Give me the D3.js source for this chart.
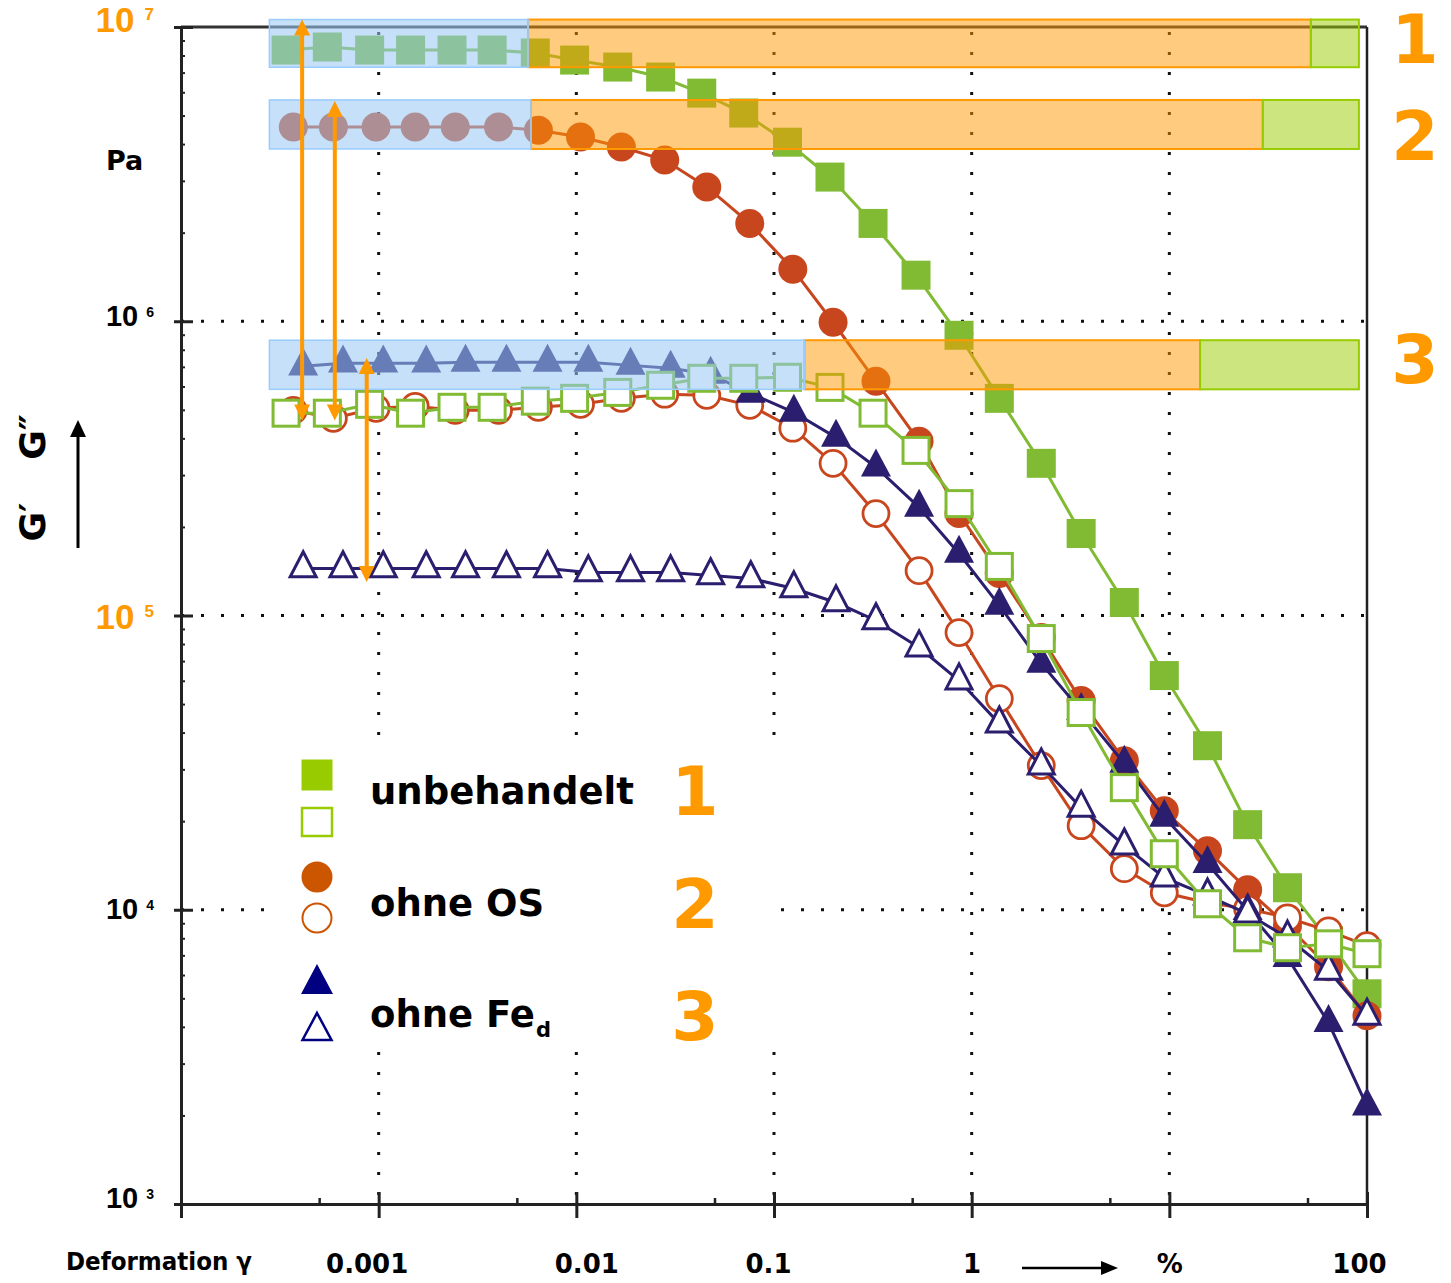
<!DOCTYPE html>
<html>
<head>
<meta charset="utf-8">
<script src="https://cdn.jsdelivr.net/npm/d3@7"></script>
<style>
  html, body { margin: 0; padding: 0; background: #ffffff; }
  svg { display: block; font-family: "DejaVu Sans", Verdana, sans-serif; font-weight: bold; }
</style>
</head>
<body>
<svg id="chart" width="1451" height="1283"></svg>
<script>
// ---- measured amplitude sweeps: strain in %, moduli in Pa ----
const strainUnbehandelt = [3.4e-4, 5.5e-4, 9.0e-4, 1.45e-3, 2.35e-3, 3.75e-3, 6.2e-3, 9.8e-3, 0.0162, 0.0267, 0.0431, 0.0703, 0.117, 0.192, 0.317, 0.523, 0.863, 1.38, 2.25, 3.58, 5.92, 9.43, 15.6, 24.9, 39.6, 63.9, 100];
const strainOhneOS      = [3.7e-4, 5.9e-4, 9.7e-4, 1.53e-3, 2.44e-3, 4.04e-3, 6.43e-3, 0.0105, 0.0169, 0.028, 0.0457, 0.0754, 0.1245, 0.199, 0.328, 0.542, 0.863, 1.38, 2.25, 3.58, 5.92, 9.43, 15.6, 24.9, 39.6, 63.9, 100];
const strainOhneFe      = [4.15e-4, 6.6e-4, 1.055e-3, 1.74e-3, 2.75e-3, 4.43e-3, 7.15e-3, 0.0115, 0.0188, 0.030, 0.0478, 0.0763, 0.126, 0.206, 0.328, 0.542, 0.863, 1.38, 2.25, 3.58, 5.92, 9.43, 15.6, 24.9, 39.6, 63.9, 100];

const storageUnbehandelt = [8.35e6, 8.55e6, 8.35e6, 8.35e6, 8.35e6, 8.35e6, 8.16e6, 7.72e6, 7.31e6, 6.76e6, 5.96e6, 5.10e6, 4.06e6, 3.09e6, 2.15e6, 1.434e6, 8.96e5, 5.47e5, 3.29e5, 1.90e5, 1.107e5, 6.25e4, 3.61e4, 1.946e4, 1.188e4, 7.85e3, 5.18e3];
const lossUnbehandelt    = [4.87e5, 4.87e5, 5.22e5, 4.87e5, 5.10e5, 5.10e5, 5.35e5, 5.47e5, 5.73e5, 6.06e5, 6.40e5, 6.40e5, 6.45e5, 5.96e5, 4.87e5, 3.64e5, 2.40e5, 1.468e5, 8.35e4, 4.68e4, 2.60e4, 1.55e4, 1.048e4, 8.03e3, 7.43e3, 7.66e3, 7.09e3];
const storageOhneOS      = [4.57e6, 4.57e6, 4.57e6, 4.57e6, 4.57e6, 4.57e6, 4.46e6, 4.23e6, 3.91e6, 3.53e6, 2.86e6, 2.15e6, 1.503e6, 9.92e5, 6.25e5, 3.91e5, 2.22e5, 1.39e5, 8.42e4, 5.14e4, 3.21e4, 2.17e4, 1.588e4, 1.17e4, 8.82e3, 6.40e3, 4.36e3];
const lossOhneOS         = [4.98e5, 4.68e5, 5.06e5, 5.14e5, 4.98e5, 4.98e5, 5.10e5, 5.22e5, 5.47e5, 5.65e5, 5.60e5, 5.18e5, 4.33e5, 3.29e5, 2.22e5, 1.42e5, 8.75e4, 5.22e4, 3.09e4, 1.93e4, 1.379e4, 1.142e4, 1.056e4, 1.008e4, 9.39e3, 8.48e3, 7.55e3];
const storageOhneFe      = [7.03e5, 7.20e5, 7.20e5, 7.20e5, 7.25e5, 7.25e5, 7.25e5, 7.25e5, 7.08e5, 6.92e5, 6.60e5, 5.69e5, 4.90e5, 4.03e5, 3.19e5, 2.33e5, 1.625e5, 1.082e5, 6.87e4, 4.75e4, 3.14e4, 2.06e4, 1.434e4, 9.92e3, 6.87e3, 4.13e3, 2.15e3];
const lossOhneFe         = [1.445e5, 1.445e5, 1.445e5, 1.445e5, 1.445e5, 1.445e5, 1.445e5, 1.40e5, 1.40e5, 1.40e5, 1.368e5, 1.336e5, 1.235e5, 1.107e5, 9.62e4, 7.78e4, 6.01e4, 4.29e4, 3.09e4, 2.22e4, 1.651e4, 1.285e4, 1.116e4, 9.69e3, 8.03e3, 6.20e3, 4.36e3];

// ---- ranges per sample: linear-viscoelastic range, yield to flow point, flow ----
const rangeModulusLow  = [7.3e6, 3.85e6, 5.87e5];
const rangeModulusHigh = [1.06e7, 5.65e6, 8.62e5];
const rangeStart       = [2.8e-4, 2.8e-4, 2.8e-4];
const lveLimit         = [5.7e-3, 5.9e-3, 0.1425];
const flowPoint        = [52, 29.7, 14.3];
const rangeEnd         = [91, 91, 91];

// ---- G' / G'' gaps marked in the LVE range ----
const gapStrain = [4.1e-4, 6.0e-4, 8.7e-4];
const gapTop    = [1.06e7, 5.6e6, 7.5e5];
const gapBottom = [4.6e5, 4.6e5, 1.3e5];

// ---- axis ticks ----
const xTickValues = [0.001, 0.01, 0.1, 1, 10, 100];
const xTickLabels = ["0.001", "0.01", "0.1", "1", "%", "100"];
const yTickValues = [1e3, 1e4, 1e5, 1e6, 1e7];
const yTickExponents = ["3", "4", "5", "6", "7"];
const sampleNames = ["unbehandelt", "ohne OS", "ohne Fe"];
const sampleNumbers = ["1", "2", "3"];

// ---- styles ----
const ORANGE = "#ff9900";
const plotColors = ["#80bb33", "#c8461e", "#2b1e6e"];
const legendColors = ["#99cc00", "#cc5500", "#000080"];

const svg = d3.select("#chart");
const x = d3.scaleLog().domain([1e-4, 100]).range([181, 1367]);
const y = d3.scaleLog().domain([1e3, 1e7]).range([1204, 27]);
const [x0, x1] = x.range();
const [y0, y1] = y.range();

// dotted grid
const grid = svg.append("g");
grid.selectAll("line.gv").data([0.001, 0.01, 0.1, 1, 10]).join("line")
  .attr("class", "gv")
  .attr("x1", d => x(d)).attr("x2", d => x(d))
  .attr("y1", y1).attr("y2", y0)
  .attr("stroke", "#111").attr("stroke-width", 3)
  .attr("stroke-dasharray", "3 17").attr("stroke-dashoffset", 15);
grid.selectAll("line.gh").data([1e4, 1e5, 1e6]).join("line")
  .attr("class", "gh")
  .attr("x1", x0).attr("x2", x1)
  .attr("y1", d => y(d)).attr("y2", d => y(d))
  .attr("stroke", "#111").attr("stroke-width", 3)
  .attr("stroke-dasharray", "3 17").attr("stroke-dashoffset", 0);

// frame (top and right)
svg.append("line").attr("x1", x0).attr("x2", x1).attr("y1", y1).attr("y2", y1)
  .attr("stroke", "#333").attr("stroke-width", 3);
svg.append("line").attr("x1", x1).attr("x2", x1).attr("y1", y1).attr("y2", y0)
  .attr("stroke", "#222").attr("stroke-width", 2.5);

// minor ticks
const minorY = [];
for (let e = 3; e < 7; e++) for (let k = 2; k <= 9; k++) minorY.push(k * Math.pow(10, e));
svg.append("g").attr("transform", `translate(${x0},0)`)
  .call(d3.axisRight(y).tickValues(minorY).tickSize(4).tickFormat(""))
  .call(g => g.select(".domain").remove())
  .call(g => g.selectAll("line").attr("stroke", "#222").attr("stroke-width", 2));
const minorX = [5e-4, 5e-3, 5e-2, 0.5, 5, 50];
svg.append("g").attr("transform", `translate(0,${y0})`)
  .call(d3.axisTop(x).tickValues(minorX).tickSize(6).tickFormat(""))
  .call(g => g.select(".domain").remove())
  .call(g => g.selectAll("line").attr("stroke", "#222").attr("stroke-width", 2.5));

// x axis
const xLabelNudge = [-12, 10, -6, 0, 0, -8];
const xAxis = svg.append("g").attr("transform", `translate(0,${y0})`)
  .call(d3.axisBottom(x).tickValues([1e-4].concat(xTickValues)).tickSizeOuter(0)
    .tickFormat(d => { const i = xTickValues.indexOf(d); return i < 0 ? "" : xTickLabels[i]; }));
xAxis.select(".domain").attr("stroke", "#222").attr("stroke-width", 3);
xAxis.selectAll(".tick line").attr("y1", -12).attr("y2", 14).attr("stroke", "#222").attr("stroke-width", 3);
xAxis.selectAll(".tick text")
  .attr("y", 69).attr("dy", 0)
  .attr("dx", d => { const i = xTickValues.indexOf(d); return i < 0 ? 0 : xLabelNudge[i]; })
  .attr("fill", "#000").attr("font-size", 26).attr("font-family", "DejaVu Sans, Verdana, sans-serif")
  .attr("font-weight", "bold");

// y axis
const yLabelDrop = [3, 9, 13, 4, 4];
const yAxis = svg.append("g").attr("transform", `translate(${x0},0)`)
  .call(d3.axisLeft(y).tickValues(yTickValues).tickSizeOuter(0).tickFormat(""));
yAxis.select(".domain").attr("stroke", "#222").attr("stroke-width", 3);
yAxis.selectAll(".tick line").attr("x1", 12).attr("x2", -7).attr("stroke", "#222").attr("stroke-width", 3);
yAxis.selectAll(".tick").each(function (d) {
  const i = yTickValues.indexOf(d);
  const hi = (d === 1e5 || d === 1e7);
  const t = d3.select(this).append("text")
    .attr("x", -27).attr("y", yLabelDrop[i])
    .attr("text-anchor", "end")
    .attr("fill", hi ? ORANGE : "#000");
  t.append("tspan").attr("font-size", hi ? 35 : 29).text("10");
  t.append("tspan").attr("font-size", hi ? 17 : 14).attr("dx", hi ? 10 : 8).attr("dy", hi ? -12 : -9)
    .text(yTickExponents[i]);
});

// unit and axis titles
svg.append("text").attr("x", 106).attr("y", 170).attr("font-size", 27).attr("fill", "#000").text("Pa");
svg.append("text").attr("transform", "translate(45,522) rotate(-90)")
  .attr("text-anchor", "middle").attr("font-size", 36).attr("fill", "#000").text("G\u2032");
svg.append("text").attr("transform", "translate(45,437) rotate(-90)")
  .attr("text-anchor", "middle").attr("font-size", 36).attr("fill", "#000").text("G\u2033");
svg.append("line").attr("x1", 78).attr("x2", 78).attr("y1", 548).attr("y2", 434)
  .attr("stroke", "#000").attr("stroke-width", 3);
svg.append("path").attr("d", "M70,437 L86,437 L78,420 Z").attr("fill", "#000");

svg.append("text").attr("x", 66).attr("y", 1270).attr("font-size", 24).attr("fill", "#000")
  .attr("textLength", 186).attr("lengthAdjust", "spacingAndGlyphs").text("Deformation \u03b3");
svg.append("line").attr("x1", 1022).attr("x2", 1104).attr("y1", 1268).attr("y2", 1268)
  .attr("stroke", "#000").attr("stroke-width", 2.5);
svg.append("path").attr("d", "M1101,1261 L1118,1268 L1101,1275 Z").attr("fill", "#000");

// marker shapes
function triPath(side, h) {
  return `M0,${-2 * h / 3} L${side / 2},${h / 3} L${-side / 2},${h / 3} Z`;
}
function drawMarker(g, shape, filled, color, sz) {
  // sz: outer size in px
  if (shape === "square") {
    const s = filled ? sz : sz - 3;
    g.append("rect").attr("x", -s / 2).attr("y", -s / 2).attr("width", s).attr("height", s)
      .attr("fill", filled ? color : "#fff").attr("stroke", filled ? "none" : color).attr("stroke-width", 3);
  } else if (shape === "circle") {
    const r = filled ? sz / 2 : sz / 2 - 1.5;
    g.append("circle").attr("r", r)
      .attr("fill", filled ? color : "#fff").attr("stroke", filled ? "none" : color).attr("stroke-width", 2.8);
  } else {
    const side = filled ? sz + 1 : sz - 3, h = filled ? sz - 1 : sz - 4;
    g.append("path").attr("d", triPath(side, h))
      .attr("fill", filled ? color : "#fff").attr("stroke", filled ? "none" : color)
      .attr("stroke-width", 3).attr("stroke-linejoin", "miter");
  }
}

// series, listed bottom to top
const series = [
  { xs: strainUnbehandelt, ys: storageUnbehandelt, shape: "square", filled: true,  color: plotColors[0] },
  { xs: strainOhneOS,      ys: storageOhneOS,      shape: "circle", filled: true,  color: plotColors[1] },
  { xs: strainOhneOS,      ys: lossOhneOS,         shape: "circle", filled: false, color: plotColors[1] },
  { xs: strainOhneFe,      ys: storageOhneFe,      shape: "tri",    filled: true,  color: plotColors[2] },
  { xs: strainOhneFe,      ys: lossOhneFe,         shape: "tri",    filled: false, color: plotColors[2] },
  { xs: strainUnbehandelt, ys: lossUnbehandelt,    shape: "square", filled: false, color: plotColors[0] }
];
const line = d3.line().x(d => x(d[0])).y(d => y(d[1]));
const plot = svg.append("g");
series.forEach(s => {
  const pts = s.xs.map((v, i) => [v, s.ys[i]]);
  const g = plot.append("g");
  g.append("path").datum(pts).attr("d", line)
    .attr("fill", "none").attr("stroke", s.color).attr("stroke-width", 3);
  g.selectAll("g.m").data(pts).join("g").attr("class", "m")
    .attr("transform", d => `translate(${x(d[0])},${y(d[1])})`)
    .each(function () { drawMarker(d3.select(this), s.shape, s.filled, s.color, 29); });
});

// range bands drawn over the curves
const bands = svg.append("g");
const idx = d3.range(rangeModulusLow.length);
idx.forEach(i => {
  const top = y(rangeModulusHigh[i]), h = y(rangeModulusLow[i]) - top;
  bands.append("rect").attr("x", x(lveLimit[i])).attr("y", top)
    .attr("width", x(flowPoint[i]) - x(lveLimit[i])).attr("height", h)
    .attr("fill", "rgba(255,153,0,0.5)").attr("stroke", ORANGE).attr("stroke-width", 2);
  bands.append("rect").attr("x", x(flowPoint[i])).attr("y", top)
    .attr("width", x(rangeEnd[i]) - x(flowPoint[i])).attr("height", h)
    .attr("fill", "rgba(153,204,0,0.5)").attr("stroke", "#99cc00").attr("stroke-width", 2);
  bands.append("rect").attr("x", x(rangeStart[i])).attr("y", top)
    .attr("width", x(lveLimit[i]) - x(rangeStart[i])).attr("height", h)
    .attr("fill", "rgba(152,200,243,0.56)").attr("stroke", "#99ccff").attr("stroke-width", 1.5);
});

// double arrows between G' and G''
const arrows = svg.append("g");
idx.forEach(i => {
  const ax = x(gapStrain[i]), t = y(gapTop[i]), b = y(gapBottom[i]);
  arrows.append("line").attr("x1", ax).attr("x2", ax).attr("y1", t + 12).attr("y2", b - 12)
    .attr("stroke", ORANGE).attr("stroke-width", 4);
  arrows.append("path").attr("d", `M${ax},${t} L${ax + 8},${t + 16} L${ax - 8},${t + 16} Z`).attr("fill", ORANGE);
  arrows.append("path").attr("d", `M${ax},${b} L${ax + 8},${b - 16} L${ax - 8},${b - 16} Z`).attr("fill", ORANGE);
});

// sample numbers beside the bands
const rightNumY = [63, 160, 383];
svg.append("g").selectAll("text").data(sampleNumbers).join("text")
  .attr("x", 1415).attr("y", (d, i) => rightNumY[i]).attr("text-anchor", "middle")
  .attr("font-size", 68).attr("fill", ORANGE).text(d => d);

// legend
const legend = svg.append("g");
legend.append("rect").attr("x", 266).attr("y", 750).attr("width", 514).attr("height", 296).attr("fill", "#fff");
const legendShapes = ["square", "circle", "tri"];
const legendFilledY = [775, 877, 984];
const legendOpenY = [822, 918, 1031];
const legendTextY = [804, 916, 1027];
const legendNumY = [815, 928, 1040];
idx.forEach(i => {
  const gf = legend.append("g").attr("transform", `translate(317,${legendFilledY[i]})`);
  drawMarker(gf, legendShapes[i], true, legendColors[i], 31);
  const go = legend.append("g").attr("transform", `translate(317,${legendOpenY[i]})`);
  const shape = legendShapes[i];
  if (shape === "square") {
    go.append("rect").attr("x", -15).attr("y", -14).attr("width", 30).attr("height", 28)
      .attr("fill", "#fff").attr("stroke", legendColors[i]).attr("stroke-width", 2.5);
  } else if (shape === "circle") {
    go.append("circle").attr("r", 14.5).attr("fill", "#fff").attr("stroke", legendColors[i]).attr("stroke-width", 2);
  } else {
    go.append("path").attr("d", triPath(29, 27)).attr("fill", "#fff")
      .attr("stroke", legendColors[i]).attr("stroke-width", 2.5);
  }
  const t = legend.append("text").attr("x", 370).attr("y", legendTextY[i]).attr("font-size", 37).attr("fill", "#000");
  t.append("tspan").text(sampleNames[i]);
  if (i === 2) t.append("tspan").attr("font-size", 21).attr("dy", 10).attr("dx", 1).text("d");
  legend.append("text").attr("x", 695).attr("y", legendNumY[i]).attr("text-anchor", "middle")
    .attr("font-size", 68).attr("fill", ORANGE).text(sampleNumbers[i]);
});
</script>
</body>
</html>
